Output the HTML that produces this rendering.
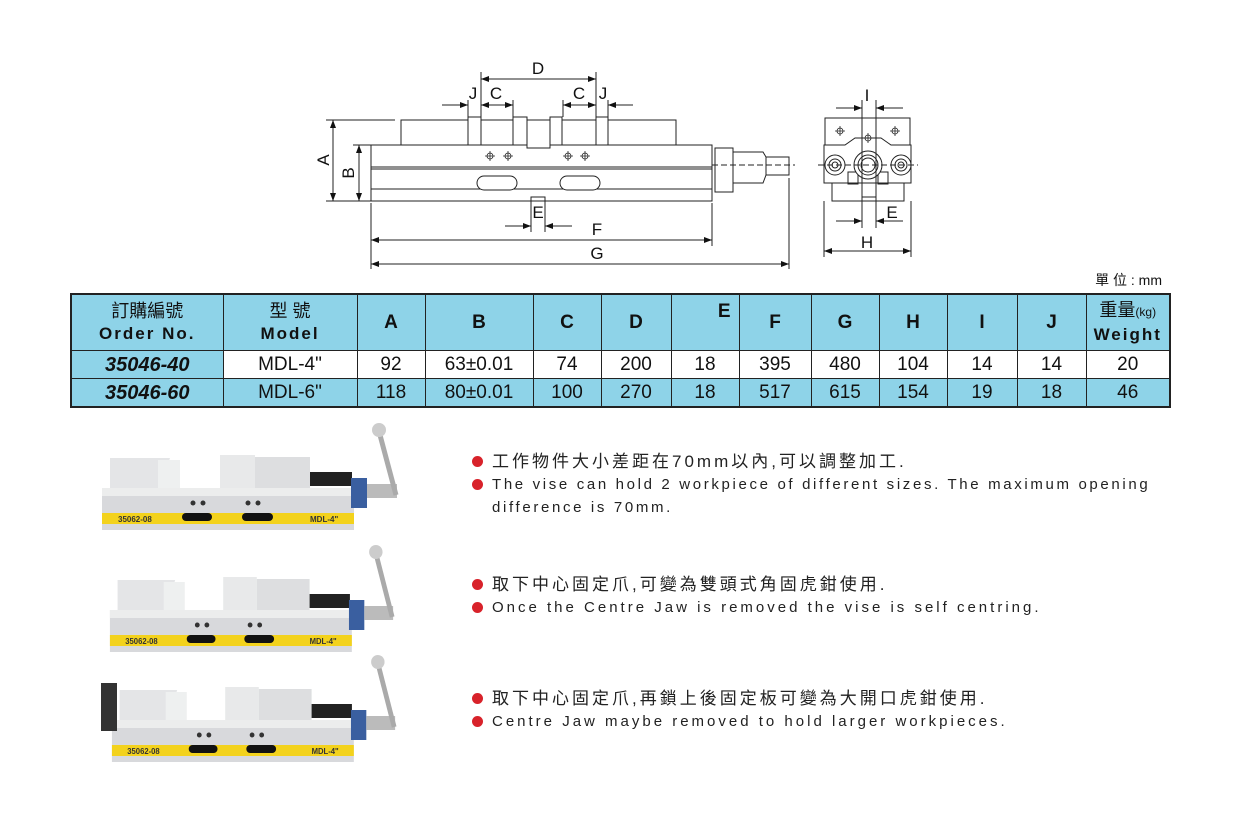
<!DOCTYPE html>
<html><head><meta charset="utf-8"><style>
body{margin:0;width:1240px;height:816px;background:#fff;position:relative;overflow:hidden;font-family:"Liberation Sans","Noto Sans CJK TC",sans-serif;}
svg{position:absolute;left:0;top:0}
table{position:absolute;left:70px;top:293px;width:1099px;table-layout:fixed;border-collapse:collapse;border:2px solid #222;}
td{border:1.5px solid #222;text-align:center;padding:0;font-size:19px;color:#111;overflow:hidden;white-space:nowrap}
.h td{background:#8ed3e8;font-weight:bold;height:49px;font-size:19px}
.b td{background:#fff;height:27px;line-height:26px}
.c td{background:#8ed3e8;height:27px;line-height:26px}
.on{font-weight:bold;font-style:italic;font-size:20px;background:#8ed3e8!important}
.hd{font-weight:normal!important;line-height:22px;font-size:18px!important}
.hd b{letter-spacing:2px;font-size:17px}
.txt{position:absolute;left:472px;font-size:16px;color:#222;}
.txt p{margin:0;position:relative;padding-left:20px;height:23px;line-height:23px;white-space:nowrap}
.txt p:before{content:"";position:absolute;left:0;top:6px;width:11px;height:11px;border-radius:50%;background:#d8222a}
.en{letter-spacing:2.65px;font-size:15px}
.en2{letter-spacing:3px;font-size:15px}
.cn{letter-spacing:3px;font-size:17px}
</style></head><body>
<svg width="1240" height="816" viewBox="0 0 1240 816">
<defs><marker id="a" markerWidth="8" markerHeight="6" refX="8" refY="3" orient="auto-start-reverse" markerUnits="userSpaceOnUse"><path d="M0,0L8,3L0,6z" fill="#111"/></marker></defs>
<g stroke="#222" stroke-width="1" fill="none">
<rect x="371" y="145" width="341" height="56" fill="#fff"/>
<line x1="371" y1="167" x2="712" y2="167"/><line x1="371" y1="169" x2="712" y2="169"/>
<line x1="371" y1="189" x2="712" y2="189"/>
<rect x="401" y="120" width="275" height="25" fill="#fff"/>
<rect x="468" y="117" width="13" height="28" fill="#fff"/>
<rect x="513" y="117" width="14" height="28" fill="#fff"/>
<rect x="527" y="120" width="23" height="28" fill="#fff"/>
<rect x="550" y="117" width="12" height="28" fill="#fff"/>
<rect x="596" y="117" width="12" height="28" fill="#fff"/>
<rect x="477" y="176" width="40" height="14" rx="7" fill="#fff"/>
<rect x="560" y="176" width="40" height="14" rx="7" fill="#fff"/>
<rect x="531" y="197" width="14" height="4"/>
<rect x="715" y="148" width="18" height="44" fill="#fff"/>
<path d="M733 152H763L766 157V175L763 183H733"/>
<rect x="766" y="157" width="23" height="18"/>
<line x1="712" y1="165" x2="795" y2="165" stroke-dasharray="6,3"/>
<g stroke-width="0.8"><circle cx="490" cy="156" r="3"/><circle cx="508" cy="156" r="3"/><circle cx="568" cy="156" r="3"/><circle cx="585" cy="156" r="3"/>
<path d="M485 156h10M490 151v10M503 156h10M508 151v10M563 156h10M568 151v10M580 156h10M585 151v10"/></g>
<line x1="326" y1="120" x2="395" y2="120"/><line x1="326" y1="201" x2="371" y2="201"/><line x1="353" y1="145" x2="371" y2="145"/>
<line x1="333" y1="120" x2="333" y2="201" marker-start="url(#a)" marker-end="url(#a)"/>
<line x1="359" y1="145" x2="359" y2="201" marker-start="url(#a)" marker-end="url(#a)"/>
<line x1="481" y1="72" x2="481" y2="117"/><line x1="596" y1="72" x2="596" y2="117"/>
<line x1="468" y1="100" x2="468" y2="117"/><line x1="513" y1="100" x2="513" y2="117"/><line x1="563" y1="100" x2="563" y2="117"/><line x1="608" y1="100" x2="608" y2="117"/>
<line x1="481" y1="79" x2="596" y2="79" marker-start="url(#a)" marker-end="url(#a)"/>
<line x1="442" y1="105" x2="468" y2="105" marker-end="url(#a)"/>
<line x1="481" y1="105" x2="513" y2="105" marker-start="url(#a)" marker-end="url(#a)"/>
<line x1="563" y1="105" x2="596" y2="105" marker-start="url(#a)" marker-end="url(#a)"/>
<line x1="633" y1="105" x2="608" y2="105" marker-end="url(#a)"/>
<line x1="531" y1="201" x2="531" y2="232"/><line x1="545" y1="201" x2="545" y2="232"/>
<line x1="505" y1="226" x2="531" y2="226" marker-end="url(#a)"/><line x1="572" y1="226" x2="545" y2="226" marker-end="url(#a)"/>
<line x1="371" y1="203" x2="371" y2="269"/><line x1="712" y1="203" x2="712" y2="246"/><line x1="789" y1="178" x2="789" y2="269"/>
<line x1="371" y1="240" x2="712" y2="240" marker-start="url(#a)" marker-end="url(#a)"/>
<line x1="371" y1="264" x2="789" y2="264" marker-start="url(#a)" marker-end="url(#a)"/>
<path d="M825 118H910V145H825Z" fill="#fff"/>
<path d="M824 145H845L855 138H881L891 145H911V183H904V201H832V183H824Z" fill="#fff"/>
<line x1="832" y1="183" x2="904" y2="183"/>
<rect x="848" y="172" width="10" height="12"/><rect x="878" y="172" width="10" height="12"/>
<rect x="862" y="197" width="14" height="4"/>
<circle cx="868" cy="165" r="14" fill="#fff"/><circle cx="868" cy="165" r="10"/><circle cx="868" cy="165" r="7"/>
<circle cx="835" cy="165" r="10" fill="#fff"/><circle cx="835" cy="165" r="6"/><circle cx="835" cy="165" r="3"/>
<circle cx="901" cy="165" r="10" fill="#fff"/><circle cx="901" cy="165" r="6"/><circle cx="901" cy="165" r="3"/>
<line x1="818" y1="165" x2="918" y2="165" stroke-dasharray="6,3"/>
<g stroke-width="0.8"><circle cx="840" cy="131" r="3"/><circle cx="895" cy="131" r="3"/><circle cx="868" cy="138" r="3"/>
<path d="M835 131h10M840 126v10M890 131h10M895 126v10M863 138h10M868 133v10"/></g>
<line x1="862" y1="100" x2="862" y2="200"/><line x1="876" y1="100" x2="876" y2="200"/>
<line x1="836" y1="108" x2="862" y2="108" marker-end="url(#a)"/><line x1="903" y1="108" x2="876" y2="108" marker-end="url(#a)"/>
<line x1="862" y1="201" x2="862" y2="228"/><line x1="876" y1="201" x2="876" y2="228"/>
<line x1="836" y1="221" x2="862" y2="221" marker-end="url(#a)"/><line x1="903" y1="221" x2="876" y2="221" marker-end="url(#a)"/>
<line x1="824" y1="201" x2="824" y2="257"/><line x1="911" y1="201" x2="911" y2="257"/>
<line x1="824" y1="251" x2="911" y2="251" marker-start="url(#a)" marker-end="url(#a)"/>
</g>
<g font-family="Liberation Sans,sans-serif" font-size="17" fill="#111" text-anchor="middle">
<text x="538" y="74">D</text><text x="473" y="99">J</text><text x="496" y="99">C</text><text x="579" y="99">C</text><text x="603" y="99">J</text>
<text x="538" y="218">E</text><text x="597" y="235">F</text><text x="597" y="259">G</text>
<text x="867" y="101">I</text><text x="892" y="218">E</text><text x="867" y="248">H</text>
<text transform="translate(329,160) rotate(-90)">A</text><text transform="translate(354,173) rotate(-90)">B</text>
<text x="1162" y="285" font-size="14" text-anchor="end" font-family="Liberation Sans,Noto Sans CJK TC,sans-serif">單 位 : mm</text>
</g>
<g id="p1">
<rect x="102" y="488" width="252" height="42" fill="#d8d9dc"/>
<rect x="102" y="488" width="252" height="8" fill="#eceded"/>
<rect x="102" y="513" width="252" height="11" fill="#f3d21c"/>
<rect x="182" y="513" width="30" height="8" rx="4" fill="#111"/><rect x="242" y="513" width="31" height="8" rx="4" fill="#111"/>
<circle cx="193" cy="503" r="2.5" fill="#333"/><circle cx="203" cy="503" r="2.5" fill="#333"/><circle cx="248" cy="503" r="2.5" fill="#333"/><circle cx="258" cy="503" r="2.5" fill="#333"/>
<path d="M110 458H170L160 488H110Z" fill="#e4e5e7"/><rect x="158" y="460" width="22" height="28" fill="#eef0f0"/>
<rect x="220" y="455" width="35" height="33" fill="#e8e9ea"/><rect x="255" y="457" width="55" height="31" fill="#dddee0"/>
<rect x="310" y="472" width="42" height="14" fill="#222"/>
<rect x="351" y="478" width="16" height="30" fill="#3a5fa0"/>
<rect x="367" y="484" width="30" height="14" fill="#bbb"/>
<path d="M396 495L380 435" stroke="#aaa" stroke-width="5"/><circle cx="379" cy="430" r="7" fill="#ccc"/>
<text x="118" y="522" font-size="8" font-weight="bold" fill="#333">35062-08</text><text x="310" y="522" font-size="8" font-weight="bold" fill="#333">MDL-4"</text>
</g>
<use href="#p1" transform="translate(12,122) scale(0.96,1)"/>
<use href="#p1" transform="translate(14,232) scale(0.96,1)"/>
<rect x="101" y="683" width="16" height="48" fill="#333"/>
</svg>
<table>
<colgroup><col style="width:152px"><col style="width:134px"><col style="width:68px"><col style="width:108px"><col style="width:68px"><col style="width:70px"><col style="width:68px"><col style="width:72px"><col style="width:68px"><col style="width:68px"><col style="width:70px"><col style="width:69px"><col style="width:84px"></colgroup>
<tr class="h"><td class="hd">訂購編號<br><b>Order No.</b></td><td class="hd">型 號<br><b>Model</b></td>
<td>A</td><td>B</td><td>C</td><td>D</td><td style="text-align:right;padding-right:8px;vertical-align:top;padding-top:6px">E</td><td>F</td><td>G</td><td>H</td><td>I</td><td>J</td><td class="hd">重量<small style="font-size:12px">(kg)</small><br><b>Weight</b></td></tr>
<tr class="b"><td class="on">35046-40</td><td>MDL-4"</td><td>92</td><td>63±0.01</td><td>74</td><td>200</td><td>18</td><td>395</td><td>480</td><td>104</td><td>14</td><td>14</td><td>20</td></tr>
<tr class="c"><td class="on">35046-60</td><td>MDL-6"</td><td>118</td><td>80±0.01</td><td>100</td><td>270</td><td>18</td><td>517</td><td>615</td><td>154</td><td>19</td><td>18</td><td>46</td></tr>
</table>
<div class="txt" style="top:450px"><p class="cn">工作物件大小差距在70mm以內,可以調整加工.</p><p class="en">The vise can hold 2 workpiece of different sizes. The maximum opening</p><div class="en" style="padding-left:20px;height:23px;line-height:23px">difference is 70mm.</div></div>
<div class="txt" style="top:573px"><p class="cn">取下中心固定爪,可變為雙頭式角固虎鉗使用.</p><p class="en2">Once the Centre Jaw is removed the vise is self centring.</p></div>
<div class="txt" style="top:687px"><p class="cn">取下中心固定爪,再鎖上後固定板可變為大開口虎鉗使用.</p><p class="en2">Centre Jaw maybe removed to hold larger workpieces.</p></div>
</body></html>
